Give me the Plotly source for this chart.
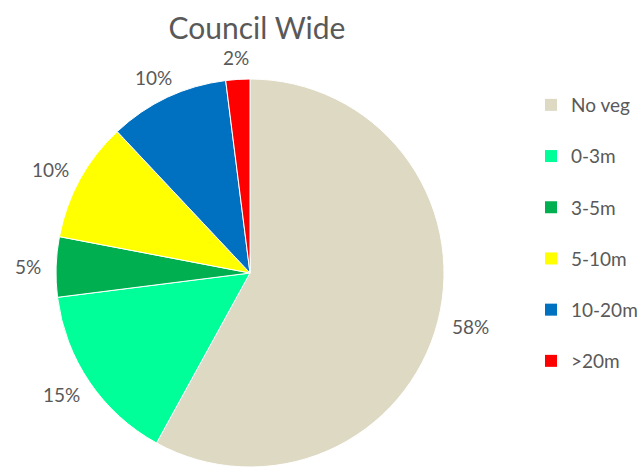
import math
import plotly.graph_objects as go

categories = ["No veg", "0-3m", "3-5m", "5-10m", "10-20m", ">20m"]
values = [58, 15, 5, 10, 10, 2]
colors = ["#DDD9C3", "#00FF99", "#00B050", "#FFFF00", "#0070C0", "#FF0000"]

font_family = "Lato, 'Open Sans', sans-serif"
text_color = "#595959"
W, H = 638, 467

# pie geometry (pixels)
R = 194
CX = 250
CY = H - R
dom_x = [(CX - R) / W, (CX + R) / W]
dom_y = [0, 2 * R / H]

fig = go.Figure()
fig.add_trace(go.Pie(
    labels=categories,
    values=values,
    marker=dict(colors=colors, line=dict(color="white", width=1)),
    sort=False,
    direction="clockwise",
    rotation=0,
    textinfo="none",
    showlegend=False,
    domain=dict(x=dom_x, y=dom_y),
    hoverinfo="label+percent",
))

# percentage labels placed outside each slice along its mid-angle
total = sum(values)
cum = 0
label_size = 19
gap = 16
for v in values:
    mid = (cum + v / 2) / total * 2 * math.pi
    cum += v
    txt = f"{round(100 * v / total)}%"
    sx, sy = math.sin(mid), -math.cos(mid)  # screen direction (y down)
    w = 0.62 * label_size * len(txt)
    h = 0.6 * label_size
    px = CX + (R + gap) * sx + (w / 2) * sx
    py = CY + (R + gap) * sy + (h / 2) * sy
    fig.add_annotation(
        x=px / W, y=1 - py / H, xref="paper", yref="paper",
        text=txt, showarrow=False, xanchor="center", yanchor="middle",
        font=dict(size=label_size, color=text_color, family=font_family),
    )

for cat, col in zip(categories, colors):
    fig.add_trace(go.Scatter(
        x=[None], y=[None], mode="markers",
        marker=dict(symbol="square", size=11, color=col),
        name=cat, legendgroup=cat, showlegend=True,
    ))

fig.update_layout(
    width=W, height=H,
    margin=dict(l=0, r=0, t=0, b=0, autoexpand=False),
    paper_bgcolor="white", plot_bgcolor="white",
    title=dict(text="Council Wide", x=257 / W, xanchor="center", y=1 - 28 / H, yanchor="middle",
               font=dict(size=30, color=text_color, family=font_family)),
    legend=dict(x=531 / W, xanchor="left", y=1 - 86 / H, yanchor="top",
                font=dict(size=19, color=text_color, family=font_family),
                tracegroupgap=23.5, itemsizing="constant"),
    xaxis=dict(visible=False), yaxis=dict(visible=False),
)

fig.write_html("out.html")
